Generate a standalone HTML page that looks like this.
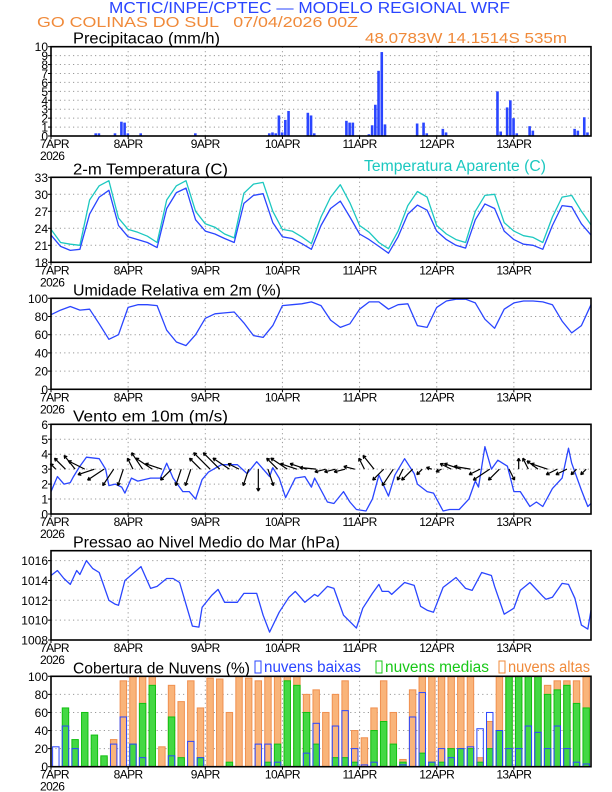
<!DOCTYPE html>
<html><head><meta charset="utf-8"><style>
body{margin:0;background:#fff;}
svg{display:block;font-family:"Liberation Sans",sans-serif;}
</style></head><body>
<svg id="chart" width="612" height="792" viewBox="0 0 612 792">
<text x="109" y="13" font-size="15.5" fill="#2a45ff" textLength="401" lengthAdjust="spacingAndGlyphs">MCTIC/INPE/CPTEC — MODELO REGIONAL WRF</text>
<text x="37" y="27" font-size="15" fill="#f08a3a" xml:space="preserve" textLength="321" lengthAdjust="spacingAndGlyphs">GO COLINAS DO SUL   07/04/2026 00Z</text>
<text x="365" y="43" font-size="15" fill="#f08a3a" textLength="202" lengthAdjust="spacingAndGlyphs">48.0783W 14.1514S 535m</text>
</svg>
<script>
const days=['7APR','8APR','9APR','10APR','11APR','12APR','13APR'];
const precipHours=[14,15,20,22,23,24,28,45,68,69,70,71,72,73,74,80,81,82,92,93,94,99,100,101,102,103,104,114,116,117,122,123,139,140,142,143,144,145,149,150,163,164,166,167];
const precipVals=[0.3,0.3,0.3,1.6,1.5,0.3,0.3,0.3,0.3,0.4,0.3,2.3,0.4,1.8,2.8,2.6,2.3,0.3,1.7,1.5,1.5,0.2,1.2,3.5,7.3,9.4,1.3,1.4,1.5,0.3,0.8,0.4,5,0.5,3.2,4,2,0.3,1.1,0.6,0.8,0.6,2.1,0.4];
const temp2m=[22.8,20.8,20.1,20.3,26.5,29.5,30.7,24.5, 22.5,22,21.5,20.6,27.5,30.3,31.1,25.5, 23.5,23,22.2,21.5,28.4,29.8,30.1,25, 22.5,22.2,21.3,20.3,24.5,27.5,28.8,26, 23,22,20.8,19.6,22.5,26.5,28.1,27.2, 23.5,22,21,20.5,25.5,28.3,27.5,23.5, 22,21.2,21,20.3,24.5,28,27.8,24.8, 22.8];
const tempApp=[23.8,21.5,21.2,21,29,31.5,32.4,25.8, 23.8,23.3,22.6,21.5,29,31.5,32.4,27, 24.8,24.2,23,22.3,30.2,31.8,32.1,27, 23.8,23.5,22.5,21.3,26,29.5,31.7,28.5, 24.5,23.3,21.5,20.4,23.5,28,30.5,29.5, 24.5,23,22,21.5,27,29.8,30,25, 23.5,22.7,22.4,21.5,26,29.5,29.8,27, 24.6];
const rhVals=[82,87,91,87,88,72,55,60, 90,93,93,92,65,52,48,60, 78,83,84,85,73,59,57,70, 92,93,94,96,92,76,68,72, 88,96,96,88,93,94,70,68, 90,97,99,99,95,77,67,88, 95,97,97,96,93,75,62,70, 93];
const windHours=[0,2,4,6,7,9,11,15,17,18,20,22,23,25,27,31,34,36,38,41,43,45,47,49,53,58,61,64,66,68,69,71,73,76,79,81,82,86,88,91,93,95,98,100,102,105,107,110,113,114,117,119,122,124,127,130,132,133,135,137,139,142,144,146,149,151,153,156,159,161,162,165,167,168];
const windSpeed=[1.5,2.5,2.0,2.1,2.5,3.2,3.8,3.7,3.0,1.9,2.0,1.8,1.4,2.4,2.2,2.4,2.4,3.4,2.4,1.5,1.5,1.0,2.3,2.8,3.3,3.3,2.7,3.5,3.0,2.5,3.1,2.4,1.1,2.4,2.5,1.8,2.4,0.8,0.7,1.5,0.8,0.3,0.2,1.0,2.6,1.2,2.6,3.7,2.7,2.0,1.5,1.4,0.2,0.3,0.3,1.0,2.2,1.8,4.5,3.0,3.6,3.2,1.5,1.5,0.5,0.8,0.5,1.7,2.4,4.4,3.4,1.6,0.5,0.7];
const windU=[-1,-2,-2,-3,-3,-3,-2,-1, -1,-2,-3,-3,-2,-1,-1,-2, -3,-3,-3,-2,-1,0,1,-2, -3,-3,-3,-3,-2,-2,-2,-2, -1,-2,-2,-2,-1,-2,-1,-1, -1,-2,-3,-3,-2,-3,-2,1, 0,-1,-2,-3,-2,-2,-1,-1];
const windV=[1,2,2.5,1.5,-1,-2,-3,-3, 2,3,2,1,-2,-3,-3,2, 3,3,2,1,-3,-4,-3,2, 2,1,1,0.3,-0.5,-0.5,-0.5,0.5, 2,2.5,-2,-3,-2,-2,-1,0.3, -0.5,1,1,0.5,-1,-2,-2,-2, 2,2,1.5,1,-1,-1,-1,-1];
const presHours=[0,2,4,6,8,9,11,13,15,18,20,21,23,28,31,33,36,38,40,44,46,47,50,52,54,58,60,64,66,68,71,74,76,79,82,83,86,88,91,95,97,100,102,103,105,106,110,113,115,117,119,122,126,129,131,134,137,138,141,144,146,149,153,154,156,159,161,163,165,167,168];
const presVals=[1014.5,1015,1014.2,1013.6,1015,1014.6,1016,1015.2,1014.8,1012,1011.6,1011.5,1014,1015.4,1013.2,1013.4,1014.2,1014.2,1013.8,1009.4,1009.3,1011.3,1012.5,1013.1,1011.8,1011.8,1012.7,1012.7,1010.5,1008.8,1010.8,1012.3,1012.9,1011.8,1012.6,1012.4,1013.4,1013.2,1010.5,1009.2,1011.2,1012.7,1013.6,1012.9,1012.9,1012.6,1013.8,1013.5,1011.4,1011,1010.8,1013.3,1014.3,1013.2,1013,1014.8,1014.5,1013.4,1010.6,1011.2,1013,1013.8,1012.4,1012.1,1012.3,1013.7,1013.6,1012.2,1009.5,1009.1,1011];
const cloudHigh=[0,0,0,0,0,10,30,95, 100,100,100,22,90,72,95,65, 98,97,60,100,98,95,100,100, 100,100,80,85,60,80,95,40, 32,65,95,60,8,85,100,100, 100,100,100,100,10,50,100,100, 95,100,100,90,95,95,95,100];
const cloudMid=[0,65,30,60,35,12,0,0, 25,70,90,0,55,10,0,10, 0,0,5,0,0,0,5,25, 95,90,60,25,0,10,10,5, 0,40,50,25,5,0,15,5, 5,20,20,20,5,20,40,100, 100,100,100,80,85,90,70,65];
const cloudLow=[22,45,20,0,0,0,25,55, 25,10,0,0,12,0,28,10, 0,0,0,0,0,25,25,5, 0,0,15,48,0,45,62,20, 2,5,0,0,2,55,82,5, 20,10,20,22,42,60,40,20, 20,45,38,20,45,20,5,3];

const svg=document.getElementById('chart');
const NS='http://www.w3.org/2000/svg';
const X0=51,X1=591;
function xs(h){return X0+h*(X1-X0)/168;}
function mk(tag,attrs,parent){const e=document.createElementNS(NS,tag);for(const k in attrs)e.setAttribute(k,attrs[k]);(parent||svg).appendChild(e);return e;}
function panel(name,top,bot,ymin,ymax,ticks,title,tlen){
  const g=mk('g',{});
  
  
  const ys=v=>bot-(v-ymin)/(ymax-ymin)*(bot-top);
  ticks.forEach(t=>{
    const y=ys(t);
    if(t>ymin&&t<ymax){const l=mk('line',{x1:X0,x2:X1,y1:y,y2:y,stroke:'#999','stroke-dasharray':'1.2,3.2','stroke-width':1},g);}
    const tx=mk('text',{x:X0-3,y:y+4.5,'text-anchor':'end','font-size':12,fill:'#000'},g);tx.textContent=t;
    
    mk('line',{x1:X0-3,x2:X0,y1:y,y2:y,stroke:'#000'},g);
  });
  days.forEach((d,i)=>{
    const x=xs(i*24);
    if(i>0){const l=mk('line',{x1:x,x2:x,y1:top,y2:bot,stroke:'#999','stroke-dasharray':'1.2,3.2'},g);}
    mk('line',{x1:x,x2:x,y1:bot,y2:bot+3,stroke:'#000'},g);
    const tx=mk('text',{x:i==0?x-11:x,y:bot+12,'text-anchor':i==0?'start':'middle','font-size':12,'letter-spacing':'-0.6',fill:'#000'},g);tx.textContent=d;
    
  });
  const yr=mk('text',{x:X0-11,y:bot+24,'font-size':12,'letter-spacing':'-0.6'},g);yr.textContent='2026';
  
  const tt=mk('text',{x:73,y:top-3,'font-size':15.5,fill:'#000',textLength:tlen,lengthAdjust:'spacingAndGlyphs'},g);tt.textContent=title;
  
  return {g,ys,top,bot};
}
function border(p){const r=mk('rect',{x:X0,y:p.top,width:X1-X0,height:p.bot-p.top,fill:'none',stroke:'#000','stroke-width':1.6});}
function line(p,hours,vals,color,name){
  const pts=vals.map((v,i)=>xs(hours[i]).toFixed(1)+','+p.ys(v).toFixed(1)).join(' ');
  const l=mk('polyline',{points:pts,fill:'none',stroke:color,'stroke-width':1.3,'stroke-linejoin':'round'},p.g);
  
}
const h3=temp2m.map((_,i)=>i*3);

const p1=panel('precip',46.7,136,0,10,[0,1,2,3,4,5,6,7,8,9,10],'Precipitacao (mm/h)',147);
precipHours.forEach((h,i)=>{
  const y=p1.ys(precipVals[i]);
  const r=mk('rect',{x:xs(h-0.5),y:y,width:2.6,height:p1.bot-y,fill:'#2a45ff'},p1.g);
  
  
});
border(p1);

const p2=panel('temperature',177.3,262.3,18,33,[18,21,24,27,30,33],'2-m Temperatura (C)',155);
const at=mk('text',{x:364,y:171,'font-size':15.5,fill:'#1cc8c0',textLength:182,lengthAdjust:'spacingAndGlyphs'});at.textContent='Temperatura Aparente (C)';

line(p2,h3,tempApp,'#1cc8c0','apparent-temperature-line');
line(p2,h3,temp2m,'#2a45ff','temperature-line');
border(p2);

const p3=panel('humidity',298.3,389.3,0,100,[0,20,40,60,80,100],'Umidade Relativa em 2m (%)',208);
line(p3,h3,rhVals,'#2a45ff','humidity-line');
border(p3);

const p4=panel('wind',424.3,514,0,6,[0,1,2,3,4,5,6],'Vento em 10m (m/s)',155);
line(p4,windHours,windSpeed,'#2a45ff','wind-speed-line');
windU.forEach((u,i)=>{
  const x=xs(i*3+1.5),y=p4.ys(3);
  const x2=x+u*5.5,y2=y-windV[i]*5.5;
  const ang=Math.atan2(y2-y,x2-x);
  const a=mk('path',{d:`M${x},${y}L${x2},${y2}M${x2},${y2}L${x2-3.5*Math.cos(ang-0.5)},${y2-3.5*Math.sin(ang-0.5)}M${x2},${y2}L${x2-3.5*Math.cos(ang+0.5)},${y2-3.5*Math.sin(ang+0.5)}`,stroke:'#000','stroke-width':1.2,fill:'none'},p4.g);
  
  
});
border(p4);

const p5=panel('pressure',550.7,640,1008,1017,[1008,1010,1012,1014,1016],'Pressao ao Nivel Medio do Mar (hPa)',267);
line(p5,presHours,presVals,'#2a45ff','pressure-line');
border(p5);

const p6=panel('clouds',676.3,766.7,0,100,[0,20,40,60,80,100],'Cobertura de Nuvens (%)',177);
function bars(vals,fill,stroke,name){
  vals.forEach((v,i)=>{
    const y=p6.ys(v);
    const r=mk('rect',{x:xs(i*3+0.5),y:y,width:xs(2.0)-X0,height:p6.bot-y,fill:fill,stroke:stroke,'stroke-width':1},p6.g);
    
    
  });
}
bars(cloudHigh,'#f9b47a','#f09050','cloud-high-bar');
bars(cloudMid,'#44d844','#10c010','cloud-mid-bar');
bars(cloudLow,'none','#2a45ff','cloud-low-bar');
[['nuvens baixas','#2a45ff',255,97],['nuvens medias','#18c818',376,104],['nuvens altas','#f08a3a',499,82]].forEach(l=>{
  const r=mk('rect',{x:l[2],y:661,width:6,height:12,fill:'none',stroke:l[1]});
  
  const t=mk('text',{x:l[2]+9,y:672,'font-size':15.5,fill:l[1],textLength:l[3],lengthAdjust:'spacingAndGlyphs'});t.textContent=l[0];
  
});
border(p6);
</script>
</body></html>
